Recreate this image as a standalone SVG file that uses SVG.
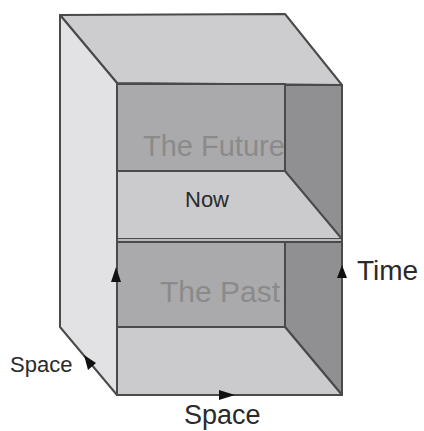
<svg xmlns="http://www.w3.org/2000/svg" width="424" height="431" viewBox="0 0 424 431">
<style>
.e{stroke:#4a4a4a;stroke-width:2;stroke-linejoin:round}
.t{font-family:"Liberation Sans",Arial,sans-serif}
.g{fill:#8a8a8a}
.d{fill:#2a2a2a}
.ah{fill:#111}
</style>
<defs>
<clipPath id="backclip"><rect x="117" y="84" width="168" height="243"/></clipPath>
</defs>
<rect width="424" height="431" fill="#fff"/>
<g id="box">
<polygon class="e" fill="#cdcdcf" points="60,15 285,14 342,85 117,83"/>
<polygon class="e" fill="#e2e2e4" points="60,15 117,83 117,395 60,327"/>
<polygon class="e" fill="#909092" points="285,85 342,85 342,395 285,327"/>
<rect class="e" fill="#aaaaac" x="117" y="84" width="168" height="87"/>
<rect class="e" fill="#aaaaac" x="117" y="242" width="168" height="85"/>
<polygon class="e" fill="#cbcbcd" points="117,171 285,171 342,239 117,239"/>
<rect fill="#b9b9bb" x="117" y="239" width="225" height="3"/>
<line class="e" x1="117" y1="242" x2="342" y2="242"/>
<polygon class="e" fill="#cbcbcd" points="117,327 285,327 342,395 117,395"/>
<line class="e" x1="117" y1="83" x2="117" y2="395"/>
<line class="e" x1="342" y1="85" x2="342" y2="395"/>
</g>
<g id="labels">
<text class="t g" x="143" y="156" font-size="29" clip-path="url(#backclip)">The Future</text>
<text class="t d" x="185" y="207" font-size="22">Now</text>
<text class="t g" x="160" y="302" font-size="30">The Past</text>
<text class="t d" x="357" y="280" font-size="28">Time</text>
<text class="t d" x="184" y="424" font-size="27">Space</text>
<text class="t d" x="10" y="372" font-size="22">Space</text>
</g>
<g id="connectors">
<polygon class="ah" points="116,267 111,282 121,282"/>
<polygon class="ah" points="342,265 337,278 347,278"/>
<polygon class="ah" points="235,395 219,390 219,400"/>
<polygon class="ah" points="84,355 88,370 96,363"/>
</g>
</svg>
